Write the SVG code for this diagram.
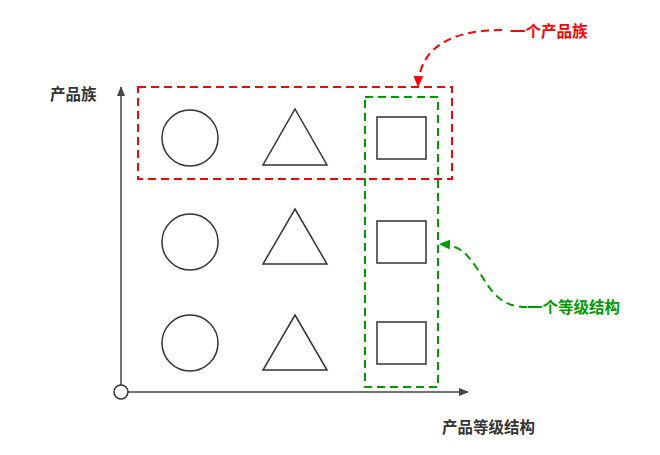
<svg xmlns="http://www.w3.org/2000/svg" width="660" height="455" viewBox="0 0 660 455">
<style>
.shape{fill:#fff;stroke:#333;stroke-width:1.5}
.axis{stroke:#444;stroke-width:1.5;fill:none}
.red{fill:none;stroke:#ff0000;stroke-width:2;stroke-dasharray:8 5}
.green{fill:none;stroke:#009900;stroke-width:2;stroke-dasharray:8 5}
.t{font-family:"Noto Sans CJK SC","Liberation Sans",sans-serif;font-size:15.5px;font-weight:bold}
</style>
<defs>
<marker id="ah" viewBox="0 0 10 10" refX="9" refY="5" markerWidth="10" markerHeight="10" markerUnits="userSpaceOnUse" orient="auto"><path d="M0,1 L10,5 L0,9 Z" fill="#444"/></marker>
<marker id="ahr" viewBox="0 0 10 10" refX="9" refY="5" markerWidth="11" markerHeight="11" markerUnits="userSpaceOnUse" orient="auto"><path d="M0,0.5 L10,5 L0,9.5 Z" fill="#ff0000"/></marker>
<marker id="ahg" viewBox="0 0 10 10" refX="9" refY="5" markerWidth="11" markerHeight="11" markerUnits="userSpaceOnUse" orient="auto"><path d="M0,0.5 L10,5 L0,9.5 Z" fill="#009900"/></marker>
</defs>
<rect width="660" height="455" fill="#fff"/>
<g id="connectors">
<line class="axis" x1="121" y1="385" x2="121" y2="87" marker-end="url(#ah)"/>
<line class="axis" x1="128" y1="392" x2="468" y2="392" marker-end="url(#ah)"/>
<path class="red" d="M502,30 C460,30 420,42 418,86" marker-end="url(#ahr)"/>
<path class="green" d="M527,307 C497,307 490,288 476,267 C466,252 458,245 440,244" marker-end="url(#ahg)"/>
</g>
<g id="origin"><circle class="shape" cx="121" cy="392" r="7"/></g>
<g id="circle1"><circle class="shape" cx="190" cy="138" r="28"/></g>
<g id="circle2"><circle class="shape" cx="190" cy="242" r="28"/></g>
<g id="circle3"><circle class="shape" cx="190" cy="343" r="28"/></g>
<g id="tri1"><polygon class="shape" points="295,109 327,165 263,165"/></g>
<g id="tri2"><polygon class="shape" points="295,209 327,264 263,264"/></g>
<g id="tri3"><polygon class="shape" points="295,315 327,370 263,370"/></g>
<g id="rect1"><rect class="shape" x="377" y="117" width="49" height="42"/></g>
<g id="rect2"><rect class="shape" x="377" y="221" width="49" height="42"/></g>
<g id="rect3"><rect class="shape" x="377" y="322" width="49" height="42"/></g>
<g id="family"><rect class="red" x="138" y="87" width="314" height="92"/></g>
<g id="level"><rect class="green" x="365" y="97" width="73" height="290"/></g>
<g id="labels">
<text class="t" x="50" y="100" fill="#333">产品族</text>
<text class="t" x="442" y="433" fill="#333">产品等级结构</text>
<text class="t" x="510" y="37" fill="#ff0000">一个产品族</text>
<text class="t" x="527" y="313" fill="#009900">一个等级结构</text>
</g>
</svg>
